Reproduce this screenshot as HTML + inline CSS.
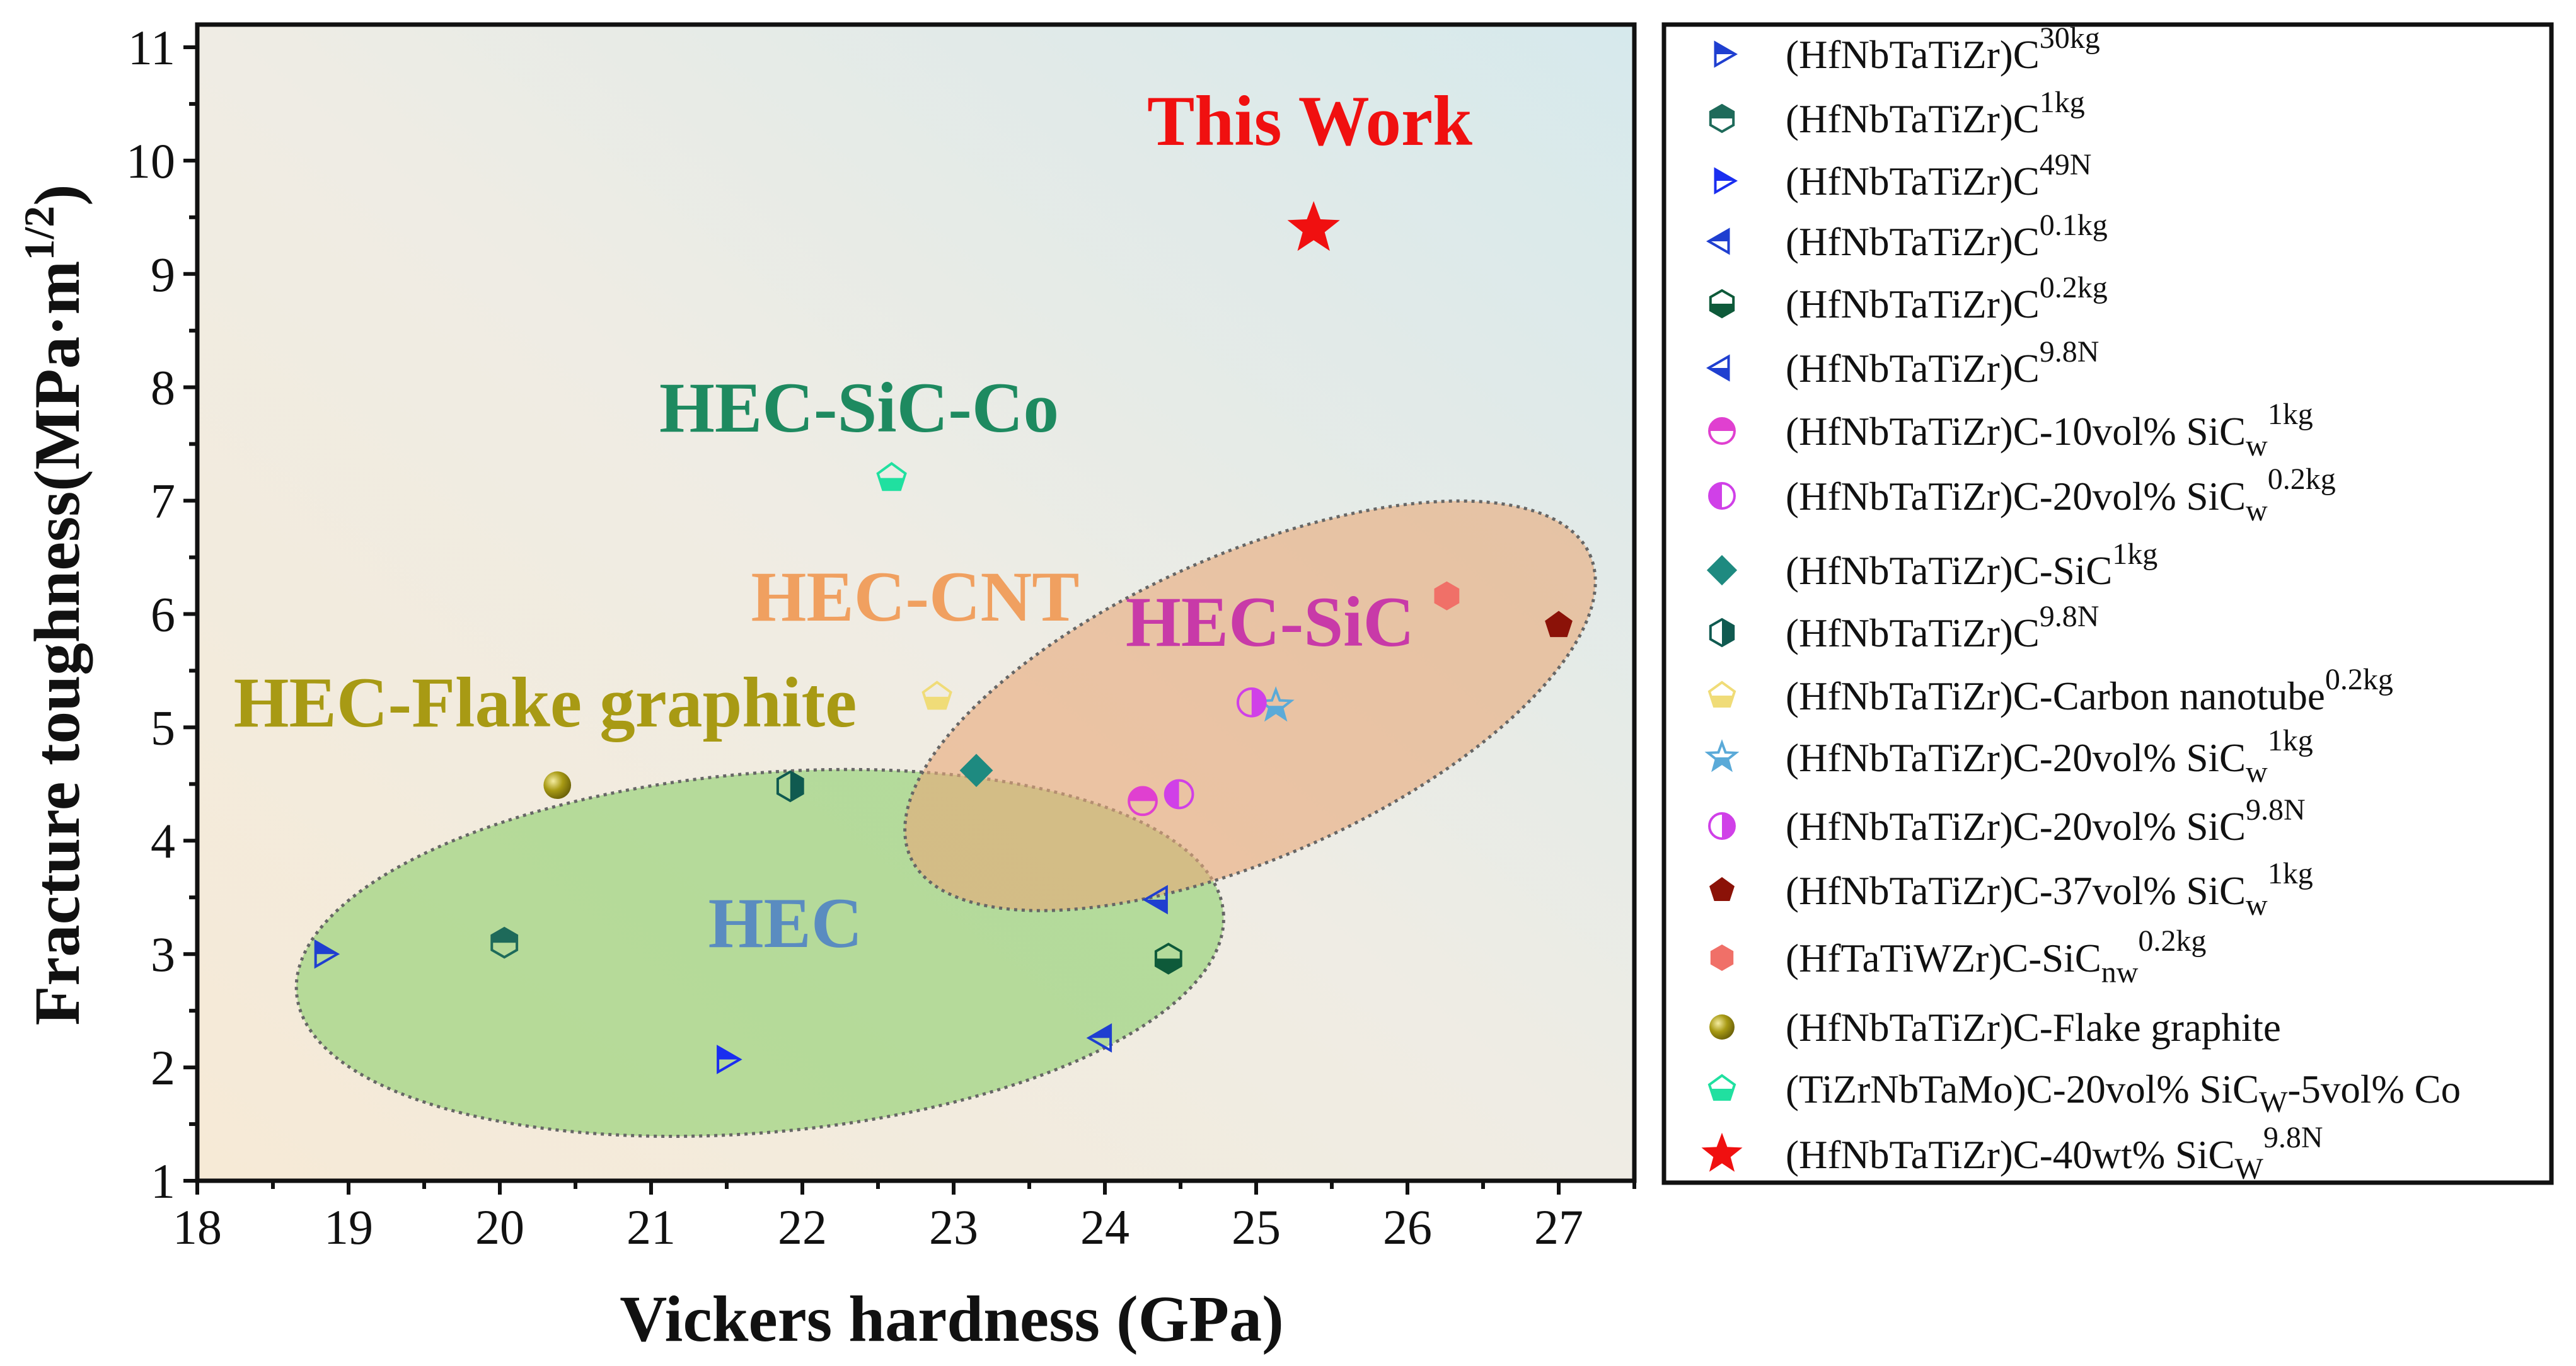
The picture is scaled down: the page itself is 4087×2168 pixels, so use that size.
<!DOCTYPE html>
<html><head><meta charset="utf-8"><style>
html,body{margin:0;padding:0;background:#fff;}
svg{display:block;font-family:"Liberation Serif",serif;}
</style></head><body>
<svg id="chart" width="4087" height="2168" viewBox="0 0 4087 2168" xmlns="http://www.w3.org/2000/svg">
<defs>
<linearGradient id="bg" x1="0" y1="1" x2="1" y2="0">
<stop offset="0" stop-color="#f6ead6"/><stop offset="0.5" stop-color="#efece4"/><stop offset="1" stop-color="#d6e9ec"/>
</linearGradient>
<clipPath id="h-top" clipPathUnits="userSpaceOnUse"><rect x="-40" y="-40" width="80" height="40"/></clipPath>
<clipPath id="h-bottom" clipPathUnits="userSpaceOnUse"><rect x="-40" y="0" width="80" height="40"/></clipPath>
<clipPath id="h-left" clipPathUnits="userSpaceOnUse"><rect x="-40" y="-40" width="40" height="80"/></clipPath>
<clipPath id="h-right" clipPathUnits="userSpaceOnUse"><rect x="0" y="-40" width="40" height="80"/></clipPath>
<radialGradient id="sph" cx="0.35" cy="0.35" r="0.7"><stop offset="0" stop-color="#f4eca0"/><stop offset="0.5" stop-color="#a89a14"/><stop offset="1" stop-color="#6a6008"/></radialGradient>
<clipPath id="plotclip"><rect x="313" y="39" width="2280" height="1835"/></clipPath>
</defs>
<g id="plot"></g>
<g id="legend"></g>
</svg>
<script>
const names=["(HfNbTaTiZr)C|30kg|","(HfNbTaTiZr)C|1kg|","(HfNbTaTiZr)C|49N|","(HfNbTaTiZr)C|0.1kg|","(HfNbTaTiZr)C|0.2kg|","(HfNbTaTiZr)C|9.8N|","(HfNbTaTiZr)C-10vol% SiC|1kg|w","(HfNbTaTiZr)C-20vol% SiC|0.2kg|w","(HfNbTaTiZr)C-SiC|1kg|","(HfNbTaTiZr)C|9.8N|","(HfNbTaTiZr)C-Carbon nanotube|0.2kg|","(HfNbTaTiZr)C-20vol% SiC|1kg|w","(HfNbTaTiZr)C-20vol% SiC|9.8N|","(HfNbTaTiZr)C-37vol% SiC|1kg|w","(HfTaTiWZr)C-SiC|0.2kg|nw","(HfNbTaTiZr)C-Flake graphite||","(TiZrNbTaMo)C-20vol% SiC|W-5vol% Co|Wsub","(HfNbTaTiZr)C-40wt% SiC|9.8N|W"];
const hardness=[18.83,20.03,21.49,23.99,24.42,24.36,24.25,24.49,23.15,21.92,22.89,25.13,24.97,27.0,26.26,20.38,22.59,25.38];
const toughness=[3.0,3.1,2.07,2.26,2.96,3.48,4.35,4.41,4.62,4.48,5.27,5.19,5.22,5.9,6.16,4.49,7.2,9.4];
const shapes=["tri-r","hex","tri-r","tri-l","hex","tri-l","circle","circle","diamond","hex","pent","star","circle","pent","hex","sphere","pent","bigstar"];
const halves=["top","top","top","top","bottom","bottom","top","left","full","right","bottom","bottom","right","full","full","full","bottom","full"];
const colors=["#1f3fd0","#1e6a5a","#1a2ef0","#1f3fd0","#0e5a3a","#1f3fd0","#e040d0","#d040e8","#1e8a80","#105a50","#f0dc78","#5aaad8","#d040e8","#8b1208","#f07068","#a89a14","#20e0a0","#f01010"];
const xTicks=[18,19,20,21,22,23,24,25,26,27];
const yTicks=[1,2,3,4,5,6,7,8,9,10,11];
const L=313,R=2593,T=39,B=1874,X0=18,X1=27.5,Y0=1,Y1=11.2;
const sx=v=>L+(v-X0)/(X1-X0)*(R-L);
const sy=v=>B-(v-Y0)/(Y1-Y0)*(B-T);
const NS="http://www.w3.org/2000/svg";
function mk(t,a,p){const e=document.createElementNS(NS,t);for(const k in a)e.setAttribute(k,a[k]);p.appendChild(e);return e;}
const plot=document.getElementById('plot'),leg=document.getElementById('legend');
mk('rect',{x:L,y:T,width:R-L,height:B-T,fill:'url(#bg)'},plot);
const cl=mk('g',{'clip-path':'url(#plotclip)'},plot);
let e1=mk('ellipse',{cx:sx(21.72),cy:sy(3.01),rx:738,ry:285,transform:`rotate(-5 ${sx(21.72)} ${sy(3.01)})`,fill:'#8fd070','fill-opacity':0.62,stroke:'#666','stroke-width':5,'stroke-dasharray':'5 7'},cl);


let e2=mk('ellipse',{cx:sx(24.96),cy:sy(5.19),rx:590,ry:240,transform:`rotate(-24 ${sx(24.96)} ${sy(5.19)})`,fill:'#e8a878','fill-opacity':0.6,stroke:'#666','stroke-width':5,'stroke-dasharray':'5 7'},cl);


const labs=[["This Work",2078,230,"#f01010"],["HEC-SiC-Co",1363,685,"#1e8a60"],["HEC-CNT",1452,985,"#f0a060"],["HEC-SiC",2015,1025,"#c83aa8"],["HEC-Flake graphite",865,1153,"#a89a14"],["HEC",1246,1503,"#5a8cc0"]];
labs.forEach(l=>{const t=mk('text',{x:l[1],y:l[2],fill:l[3],'font-size':113,'font-weight':'bold','text-anchor':'middle'},plot);t.textContent=l[0];

});
function shapePath(s,r){
 const poly=(n,rot,rr)=>{let p=[];for(let i=0;i<n;i++){const a=rot+i*2*Math.PI/n;p.push((rr*Math.cos(a)).toFixed(1)+','+(rr*Math.sin(a)).toFixed(1));}return 'M'+p.join('L')+'Z';};
 const star=rr=>{let p=[];for(let i=0;i<10;i++){const a=-Math.PI/2+i*Math.PI/5;const q=i%2?rr*0.42:rr;p.push((q*Math.cos(a)).toFixed(1)+','+(q*Math.sin(a)).toFixed(1));}return 'M'+p.join('L')+'Z';};
 if(s==='tri-r')return poly(3,0,r);if(s==='tri-l')return poly(3,Math.PI,r);
 if(s==='hex')return poly(6,Math.PI/6,r);if(s==='pent')return poly(5,-Math.PI/2,r);
 if(s==='diamond')return poly(4,-Math.PI/2,r*1.15);if(s==='star')return star(r*1.1);if(s==='bigstar')return star(r*1.9);
 return null;}
function marker(parent,x,y,i,r){
 const g=mk('g',{transform:`translate(${x},${y})`},parent);
 const s=shapes[i],h=halves[i],c=colors[i];
 const d=shapePath(s,r);
 if(s==='sphere'){mk('circle',{r:r*0.95,fill:'url(#sph)'},g);return g;}
 const make=(a)=>d?mk('path',Object.assign({d:d},a),g):mk('circle',Object.assign({r:r*0.95},a),g);
 if(h==='full'){make({fill:c});}
 else{make({fill:'none'});make({fill:c,'clip-path':`url(#h-${h})`});make({fill:'none',stroke:c,'stroke-width':4});}
 return g;}
for(let i=0;i<hardness.length;i++){
 const m=marker(plot,sx(hardness[i]),sy(toughness[i]),i,23);
 
 }
const ax=mk('g',{},plot);
mk('rect',{x:L,y:T,width:R-L,height:B-T,fill:'none',stroke:'#111','stroke-width':7},ax);
xTicks.forEach(v=>{mk('line',{x1:sx(v),x2:sx(v),y1:B,y2:B+22,stroke:'#111','stroke-width':6},ax);
 mk('line',{x1:sx(v+0.5),x2:sx(v+0.5),y1:B,y2:B+13,stroke:'#111','stroke-width':6},ax);
 const t=mk('text',{x:sx(v),y:B+100,'font-size':78,'text-anchor':'middle',fill:'#111'},ax);t.textContent=v;
 
 });
yTicks.forEach(v=>{mk('line',{x1:L-22,x2:L,y1:sy(v),y2:sy(v),stroke:'#111','stroke-width':6},ax);
 if(v<11)mk('line',{x1:L-13,x2:L,y1:sy(v+0.5),y2:sy(v+0.5),stroke:'#111','stroke-width':6},ax);
 const t=mk('text',{x:L-35,y:sy(v)+27,'font-size':78,'text-anchor':'end',fill:'#111'},ax);t.textContent=v;
 
 });
let xt=mk('text',{x:1510,y:2128,'font-size':104,'font-weight':'bold','text-anchor':'middle',fill:'#111'},ax);xt.textContent='Vickers hardness (GPa)';


let yt=mk('text',{transform:'translate(125,960) rotate(-90)','font-size':103,'font-weight':'bold','text-anchor':'middle',fill:'#111'},ax);
yt.innerHTML='Fracture toughness(MPa·m<tspan dy="-40" font-size="68">1/2</tspan><tspan dy="40">)</tspan>';


mk('rect',{x:2640,y:39,width:1408,height:1838,fill:'#fff',stroke:'#111','stroke-width':7},leg);
const ly=[86,188,287,383,482,584,684,787,905,1004,1104,1202,1311,1413,1520,1630,1728,1832];
names.forEach((n,i)=>{
 const [base,sup,sub]=n.split('|');
 const m=marker(leg,2732,ly[i],i,i===17?18:21);
 
 
 const t=mk('text',{x:2833,y:ly[i]+22,'font-size':63,fill:'#111'},leg);
 let html=base;
 if(sub==='Wsub'){html+='<tspan dy="15" font-size="48">W</tspan><tspan dy="-15">-5vol% Co</tspan>';}
 else{ if(sub)html+=`<tspan dy="17" font-size="48">${sub}</tspan>`;
  if(sup)html+=`<tspan dy="${sub?-50:-32}" font-size="48">${sup}</tspan>`;}
 t.innerHTML=html;
 
 
});
</script>
</body></html>
